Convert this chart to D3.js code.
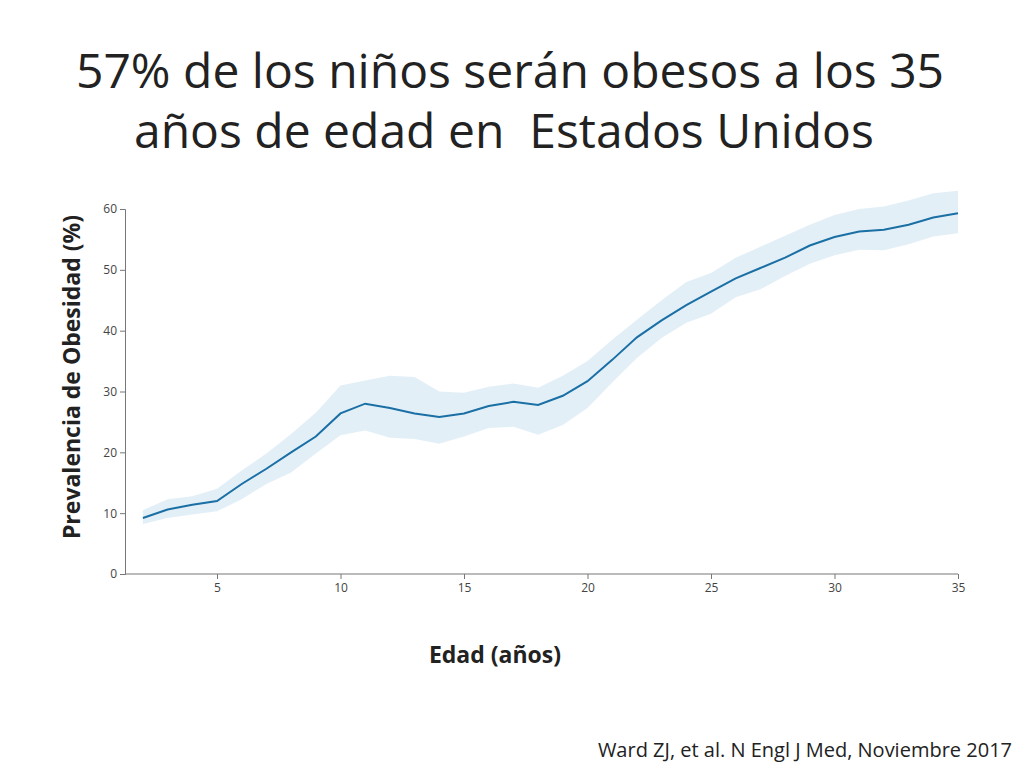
<!DOCTYPE html>
<html><head><meta charset="utf-8">
<script src="https://cdn.jsdelivr.net/npm/d3@7"></script>
<style>body{margin:0;background:#fff;font-family:"Open Sans",sans-serif}</style>
</head><body><svg width="1024" height="768"></svg>
<script>
var ages = d3.range(2, 36);
var prevalence = [9.2,10.6,11.4,12.0,14.8,17.3,20.0,22.6,26.4,28.0,27.3,26.4,25.8,26.4,27.6,28.3,27.8,29.3,31.7,35.2,38.9,41.7,44.2,46.4,48.6,50.3,52.0,54.0,55.4,56.3,56.6,57.4,58.6,59.3];
var upper = [10.5,12.3,12.8,14,17,19.8,23,26.5,31,31.8,32.6,32.4,30,29.8,30.8,31.3,30.6,32.6,35,38.5,41.8,45,48,49.5,52,53.8,55.6,57.4,59,60,60.4,61.4,62.6,63];
var lower = [8.2,9.2,9.8,10.3,12.3,14.8,16.7,19.8,22.8,23.6,22.4,22.2,21.4,22.6,24,24.2,22.9,24.5,27.3,31.5,35.5,38.8,41.3,42.8,45.5,46.8,49,51,52.4,53.3,53.2,54.2,55.5,56];
var xTicks = [5,10,15,20,25,30,35];
var yTicks = [0,10,20,30,40,50,60];

var svg = d3.select("svg");
var x = d3.scaleLinear().domain([5,35]).range([217,958]);
var y = d3.scaleLinear().domain([0,60]).range([574,209]);

svg.selectAll(".title").data(["57% de los niños serán obesos a los 35","años de edad en  Estados Unidos"])
  .enter().append("text").attr("x",512).attr("y",function(d,i){return 88+i*60;})
  .attr("text-anchor",function(d,i){return i?"start":"middle";})
  .attr("x",function(d,i){return i?134:510;})
  .attr("font-size",48).attr("fill","#222").attr("xml:space","preserve").text(function(d){return d;});

svg.append("path").datum(ages)
  .attr("fill","#dcebf5").attr("opacity",0.8)
  .attr("d", d3.area().x(function(d){return x(d);})
    .y0(function(d,i){return y(lower[i]);}).y1(function(d,i){return y(upper[i]);}));

svg.append("path").datum(ages)
  .attr("fill","none").attr("stroke","#1a6fa5").attr("stroke-width",2)
  .attr("d", d3.line().x(function(d){return x(d);}).y(function(d,i){return y(prevalence[i]);}));

var xa = svg.append("g").attr("transform","translate(0,574)")
  .call(d3.axisBottom(x).tickValues(xTicks).tickSize(5).tickPadding(4));
xa.select(".domain").attr("d","M125,0H958");
var ya = svg.append("g").attr("transform","translate(125,0)")
  .call(d3.axisLeft(y).tickValues(yTicks).tickSize(5).tickPadding(3));
[xa, ya].forEach(function(a){
  a.selectAll("text").attr("font-size",12).attr("fill","#444").attr("font-family","Open Sans");
  a.selectAll("line,.domain").attr("stroke","#777");
});

svg.append("text").attr("transform","translate(80,377) rotate(-90)")
  .attr("text-anchor","middle").attr("font-size",23).attr("font-weight","bold").attr("fill","#222")
  .text("Prevalencia de Obesidad (%)");
svg.append("text").attr("x",495).attr("y",663).attr("text-anchor","middle")
  .attr("font-size",23).attr("font-weight","bold").attr("fill","#222").text("Edad (años)");
svg.append("text").attr("x",1012).attr("y",757).attr("text-anchor","end")
  .attr("font-size",20).attr("fill","#222").text("Ward ZJ, et al. N Engl J Med, Noviembre 2017");
</script></body></html>
